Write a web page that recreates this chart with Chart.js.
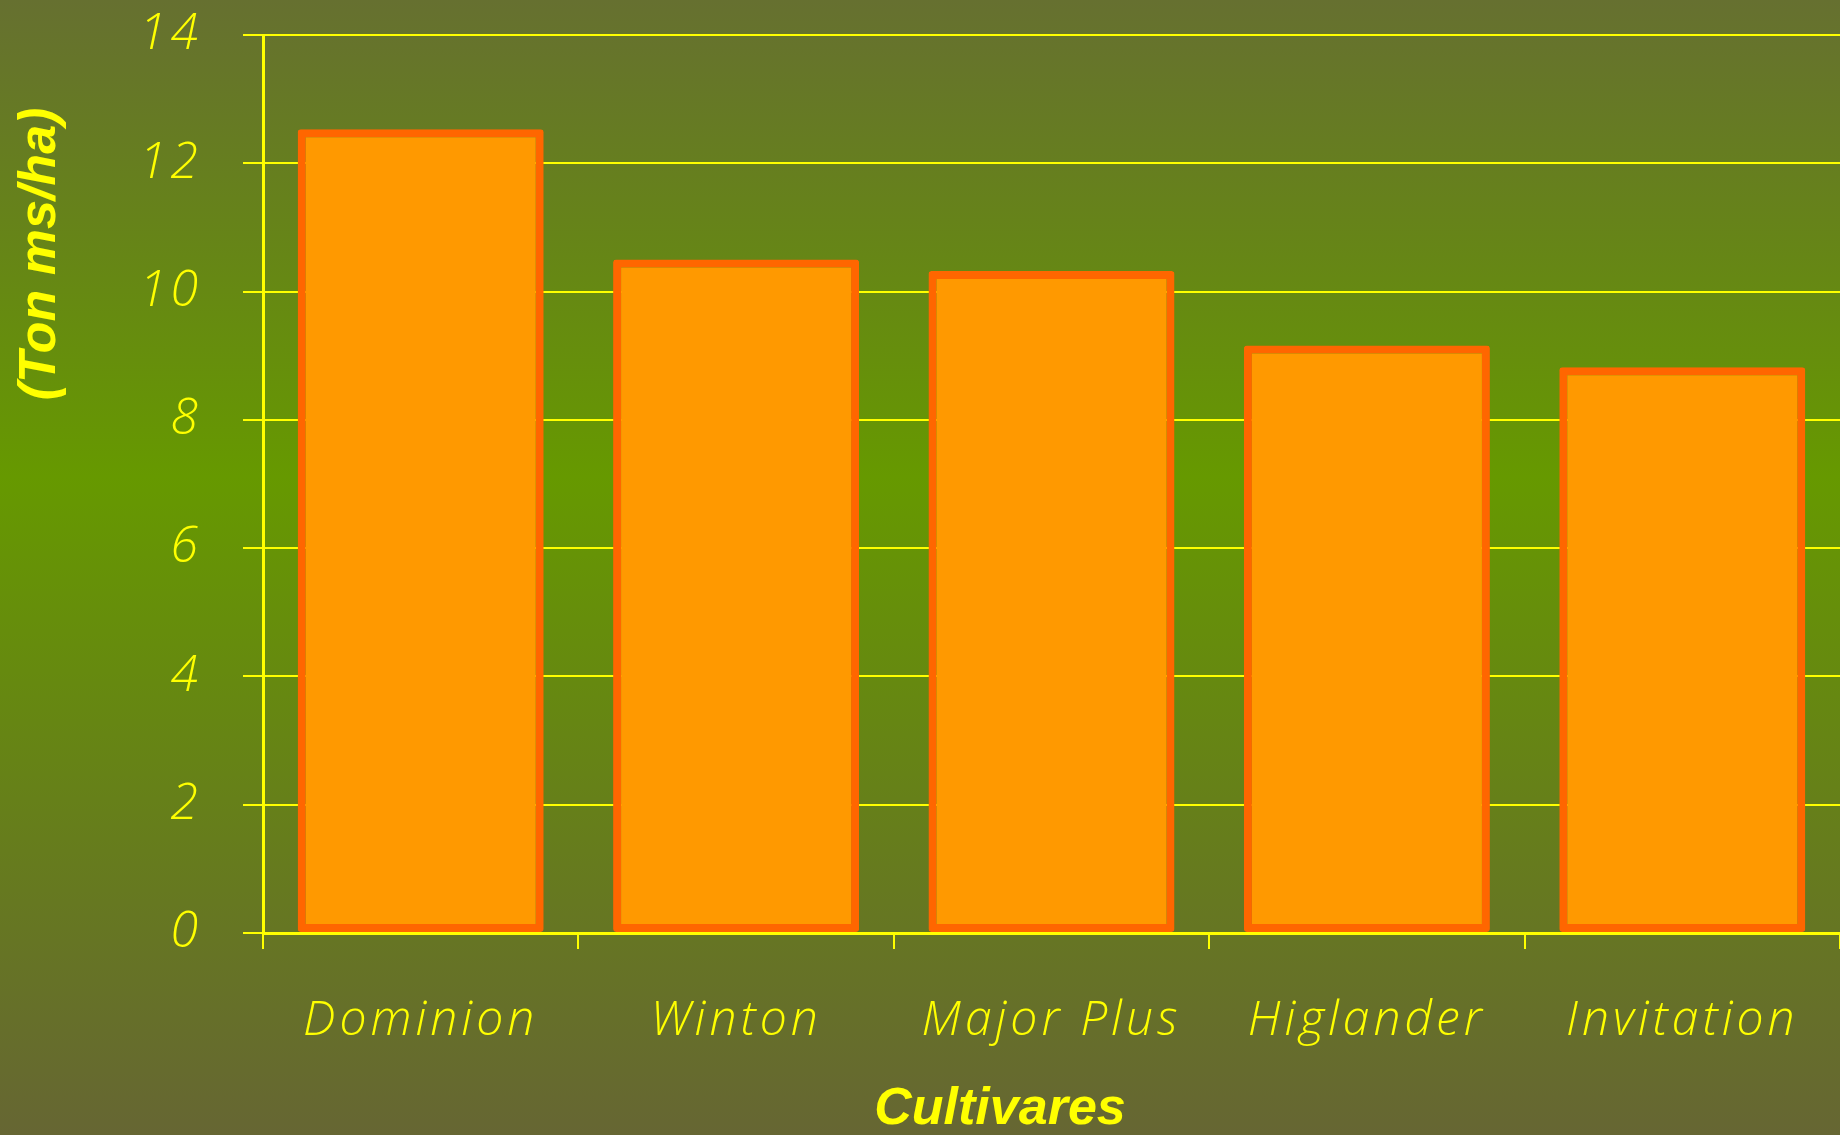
<!DOCTYPE html>
<html>
<head>
<meta charset="utf-8">
<title>Cultivares</title>
<script src="https://cdn.jsdelivr.net/npm/chart.js@4.4.1/dist/chart.umd.min.js"></script>
<style>
  html, body { margin: 0; padding: 0; overflow: hidden; background: #667030; }
  #wrap { width: 1840px; height: 1135px; position: relative; }
</style>
</head>
<body>
<div id="wrap"><canvas id="yieldChart"></canvas></div>
<script>
var cultivars = ['Dominion', 'Winton', 'Major Plus', 'Higlander', 'Invitation'];
var yieldValues = [12.53, 10.5, 10.32, 9.16, 8.82];
var yMin = 0;
var yMax = 14;
var yStep = 2;
var xTitle = 'Cultivares';
var yTitle = '(Ton ms/ha)';

var yellow = '#FFFF00';
var barFill = '#FF9900';
var barEdge = '#FF6600';
var tickFont = '"Open Sans", "DejaVu Sans", sans-serif';
var titleFont = '"Liberation Sans", Arial, sans-serif';

/* gradient slide background, and the wide tracking of the tick labels */
var bgPlugin = {
  id: 'slideBg',
  beforeDraw: function(chart) {
    var c = chart.ctx;
    var g = c.createLinearGradient(0, 0, 0, chart.height);
    g.addColorStop(0, '#667030');
    g.addColorStop(0.42, '#669900');
    g.addColorStop(1, '#666633');
    c.save();
    c.fillStyle = g;
    c.fillRect(0, 0, chart.width, chart.height);
    c.restore();
    c.letterSpacing = '4px';
  }
};

/* axis titles placed like the slide, not centred on the axes */
var titlesPlugin = {
  id: 'slideTitles',
  afterDraw: function(chart) {
    var c = chart.ctx;
    c.letterSpacing = '0px';
    c.save();
    c.fillStyle = yellow;
    c.font = 'italic bold 52px ' + titleFont;
    c.textAlign = 'center';
    c.textBaseline = 'middle';
    c.fillText(xTitle, 1000, 1110);
    c.translate(41, 254);
    c.rotate(-Math.PI / 2);
    c.fillText(yTitle, 0, 0);
    c.restore();
  }
};

new Chart(document.getElementById('yieldChart'), {
  type: 'bar',
  data: {
    labels: cultivars,
    datasets: [{
      data: yieldValues,
      backgroundColor: barFill,
      borderColor: barEdge,
      borderWidth: 8,
      borderSkipped: false,
      borderRadius: 3,
      barPercentage: 0.78,
      categoryPercentage: 1
    }]
  },
  options: {
    responsive: true,
    maintainAspectRatio: false,
    animation: false,
    devicePixelRatio: 1,
    layout: { padding: { top: 35, right: 0, left: 0, bottom: 0 } },
    plugins: {
      legend: { display: false },
      title: { display: false },
      tooltip: { enabled: false }
    },
    scales: {
      x: {
        z: 1,
        grid: {
          offset: true,
          drawOnChartArea: false,
          drawTicks: true,
          tickLength: 16,
          color: yellow,
          lineWidth: 2
        },
        border: { color: yellow, width: 3 },
        ticks: {
          color: yellow,
          padding: 44,
          font: { family: tickFont, size: 48, style: 'italic', weight: '300' }
        },
        afterFit: function(axis) {
          axis.height = 202;
          axis.paddingLeft = 0;
          axis.paddingRight = 0;
        }
      },
      y: {
        min: yMin,
        max: yMax,
        grid: {
          color: yellow,
          lineWidth: 2,
          tickLength: 20
        },
        border: { color: yellow, width: 3 },
        ticks: {
          stepSize: yStep,
          color: yellow,
          padding: 41,
          font: { family: tickFont, size: 50, style: 'italic', weight: '300' }
        },
        afterFit: function(axis) {
          axis.width = 263;
          axis.paddingTop = 0;
          axis.paddingBottom = 0;
        }
      }
    }
  },
  plugins: [bgPlugin, titlesPlugin]
});
</script>
</body>
</html>
